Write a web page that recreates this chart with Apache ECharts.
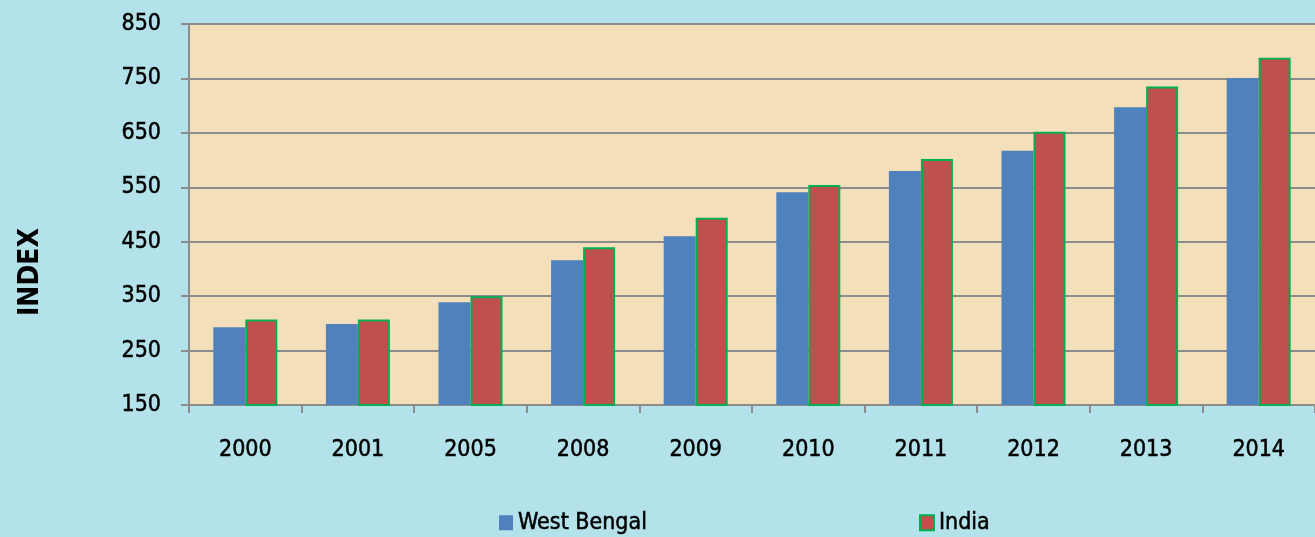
<!DOCTYPE html>
<html>
<head>
<meta charset="utf-8">
<script src="https://cdn.jsdelivr.net/npm/echarts@6/dist/echarts.min.js"></script>
<style>
  html, body { margin: 0; padding: 0; }
  #container { width: 1315px; height: 537px; }
</style>
</head>
<body>
<div id="container"></div>
<script>
var years = ['2000', '2001', '2005', '2008', '2009', '2010', '2011', '2012', '2013', '2014'];
var westBengal = [293, 299, 339, 416, 460, 541, 580, 617, 697, 751];
var india = [307, 307, 350, 440, 494, 554, 602, 652, 735, 788];
var yTicks = [150, 850, 100]; // min, max, step

var narrow = '"DejaVu Sans Condensed", "Liberation Sans Narrow", sans-serif';

var myChart = echarts.init(document.getElementById('container'));

// label text, slightly thickened to look like the original narrow font
var labelText = {
    fontSize: 23,
    color: '#000',
    fontFamily: narrow,
    textBorderColor: '#000',
    textBorderWidth: 0.5
};

var option = {
    backgroundColor: '#b3e2ea',
    textStyle: { fontFamily: narrow },
    grid: {
        left: 189,
        top: 24,
        width: 1135,
        bottom: 132,
        show: true,
        backgroundColor: '#f3dfb9',
        borderWidth: 0
    },
    graphic: [{
        type: 'text',
        x: 31,
        y: 272,
        rotation: Math.PI / 2,
        style: {
            text: 'INDEX',
            fontSize: 28,
            fontWeight: 'bold',
            fontFamily: narrow,
            fill: '#000',
            align: 'center',
            verticalAlign: 'middle'
        }
    }],
    legend: [{
        data: ['West Bengal'],
        left: 499,
        top: 511,
        padding: 0,
        icon: 'rect',
        itemWidth: 14,
        itemHeight: 15,
        textStyle: Object.assign({}, labelText, { padding: [0, 0, 0, 0] })
    }, {
        data: ['India'],
        left: 919,
        top: 511,
        padding: 0,
        icon: 'rect',
        itemWidth: 14,
        itemHeight: 15,
        textStyle: Object.assign({}, labelText, { padding: [0, 0, 0, 0] })
    }],
    xAxis: {
        type: 'category',
        data: years,
        axisLine: { lineStyle: { color: '#8c8c8c', width: 2 } },
        axisTick: { show: true, length: 8, lineStyle: { color: '#8c8c8c', width: 2 } },
        axisLabel: Object.assign({ margin: 34 }, labelText)
    },
    yAxis: {
        type: 'value',
        min: yTicks[0],
        max: yTicks[1],
        interval: yTicks[2],
        axisLine: { show: true, lineStyle: { color: '#8c8c8c', width: 2 } },
        axisTick: { show: true, length: 8, lineStyle: { color: '#8c8c8c', width: 2 } },
        splitLine: { lineStyle: { color: '#8c8c8c', width: 2 } },
        axisLabel: Object.assign({ margin: 28 }, labelText)
    },
    series: [{
        name: 'West Bengal',
        type: 'bar',
        data: westBengal,
        barWidth: 32,
        barGap: '0%',
        itemStyle: { color: '#4f81bd' }
    }, {
        name: 'India',
        type: 'bar',
        data: india,
        barWidth: 32,
        itemStyle: { color: '#c0504d', borderColor: '#00b050', borderWidth: 2 }
    }]
};

if (option && typeof option === 'object') {
    myChart.setOption(option, true);
}
</script>
</body>
</html>
